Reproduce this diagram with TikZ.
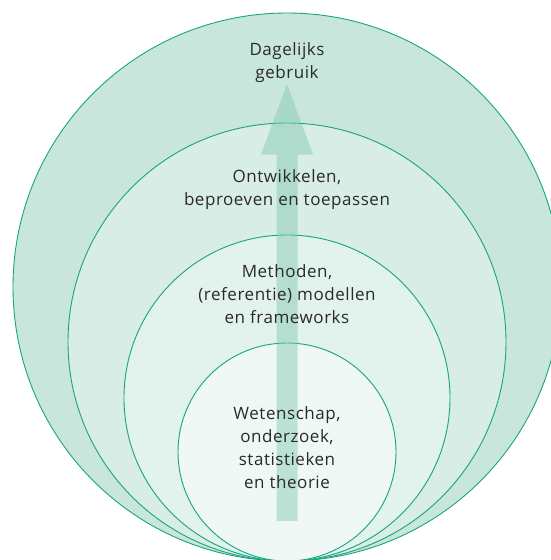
\documentclass[tikz,border=0pt]{standalone}
\usepackage{fontspec}
\setmainfont{Open Sans}[LetterSpace=3.2]
\begin{document}
\begin{tikzpicture}[x=1pt,y=-1pt,
  ring/.style={circle, draw=ringline, line width=0.9pt, inner sep=0pt},
  label/.style={anchor=base, align=center, text=labeltext,
    font=\fontsize{17}{23}\selectfont},
]
\definecolor{ringline}{HTML}{17A57F}
\definecolor{ringA}{HTML}{C9E6DC}
\definecolor{ringB}{HTML}{D7EDE5}
\definecolor{ringC}{HTML}{E2F2EC}
\definecolor{ringD}{HTML}{EFF8F5}
\definecolor{arrowfill}{HTML}{80C7B0}
\definecolor{labeltext}{HTML}{2A2A2A}

\useasboundingbox (0,0) rectangle (551,560);

% nested circles, all touching at the bottom
\begin{scope}
\clip (0,0) rectangle (551,560);
\node[ring, fill=ringA, minimum size=548pt] (daily)   at (287,287) {};
\node[ring, fill=ringB, minimum size=438pt] (develop) at (287,342) {};
\node[ring, fill=ringC, minimum size=326pt] (methods) at (287,398) {};
\node[ring, fill=ringD, minimum size=218pt] (science) at (287,452) {};
\end{scope}

% upward arrow
\fill[arrowfill, fill opacity=0.45]
  (276.5,521) -- (276.5,154.6) -- (261,154.6) -- (287,84)
  -- (313,154.6) -- (297.5,154.6) -- (297.5,521) -- cycle;

% labels
\node[label] (tDaily)   at (287,78) {Dagelijks\\gebruik};
\node[label] (tDevelop) at (287,205.5)  {Ontwikkelen,\\beproeven en toepassen};
\node[label] (tMethods) at (287,323) {Methoden,\\(referentie) modellen\\en frameworks};
\node[label] (tScience) at (287,488.5)  {Wetenschap,\\onderzoek,\\statistieken\\en theorie};
\end{tikzpicture}
\end{document}
